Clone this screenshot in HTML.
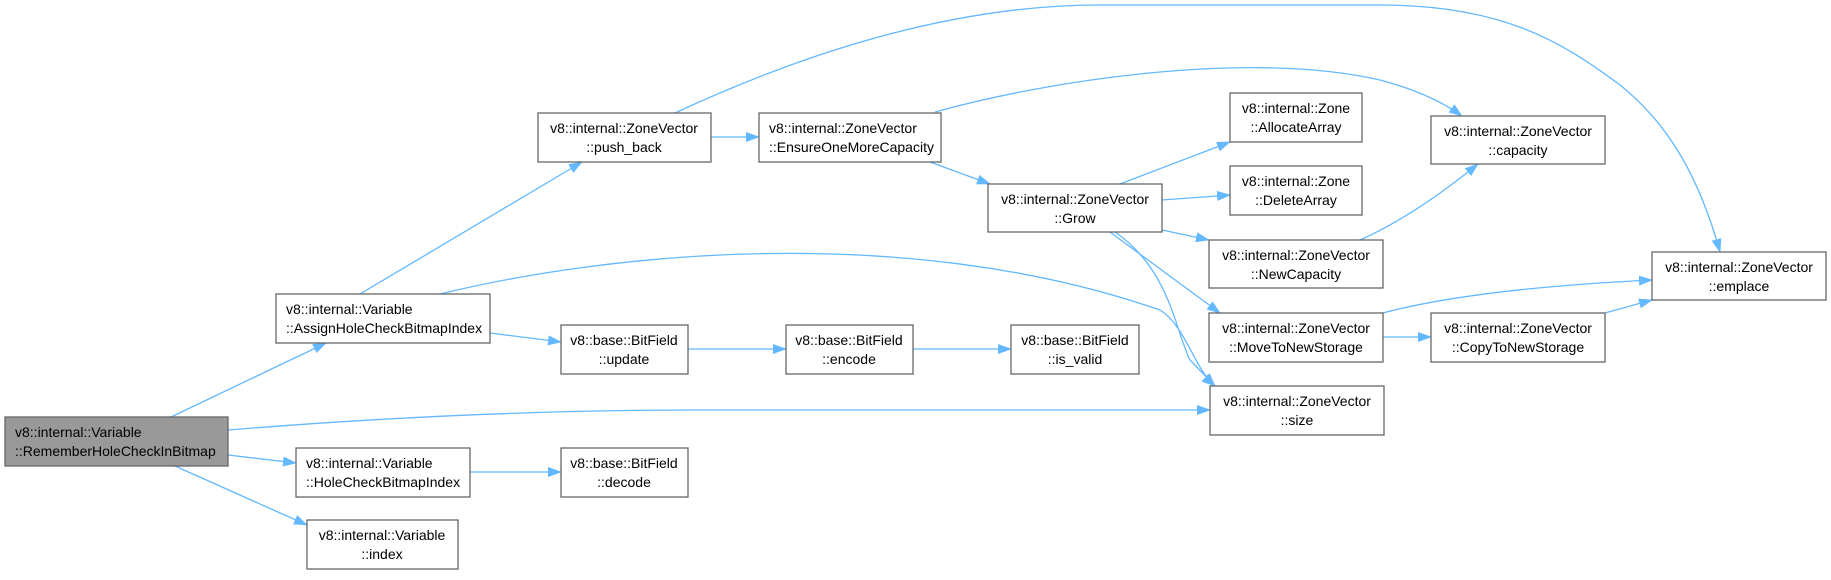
<!DOCTYPE html>
<html><head><meta charset="utf-8"><style>
body{margin:0;background:#fff;}
svg text{font-family:"Liberation Sans",sans-serif;font-size:14px;fill:#000;}
.b{fill:#fff;stroke:#666;stroke-width:1.3;}
.e{fill:none;stroke:#63b8ff;stroke-width:1.3;}
</style></head><body>
<svg width="1831" height="575" viewBox="0 0 1831 575" xmlns="http://www.w3.org/2000/svg">
<defs><marker id="a" markerWidth="14" markerHeight="10" refX="13" refY="5" orient="auto" markerUnits="userSpaceOnUse"><path d="M0,0 L14,5 L0,10 Z" fill="#63b8ff"/></marker></defs>
<g class="e" marker-end="url(#a)">
<path d="M171,417 L326,343"/>
<path d="M228,430 C400,416 550,410 700,410 L1210,410"/>
<path d="M228,455 L296,463"/>
<path d="M175,466 L307,525"/>
<path d="M360,294 L582,162"/>
<path d="M440,294 C600,255 900,220 1160,310 C1185,325 1195,370 1215,386"/>
<path d="M490,333 L561,342"/>
<path d="M711,137 L759,137"/>
<path d="M675,113 C800,55 950,5 1100,5 L1380,5 C1500,5 1560,40 1620,85 C1670,125 1700,180 1720,252"/>
<path d="M935,112 C1050,80 1250,50 1380,80 C1410,88 1440,100 1462,116"/>
<path d="M930,162 L990,184"/>
<path d="M1120,184 L1230,142"/>
<path d="M1162,200 L1230,195"/>
<path d="M1162,230 L1209,240"/>
<path d="M1110,232 L1220,313"/>
<path d="M1115,232 C1170,270 1175,330 1190,360 L1215,386"/>
<path d="M1360,240 C1400,222 1440,195 1478,164"/>
<path d="M1383,313 C1450,295 1550,285 1652,280"/>
<path d="M1383,337 L1431,337"/>
<path d="M1605,313 L1652,300"/>
<path d="M688,349 L786,349"/>
<path d="M913,349 L1011,349"/>
<path d="M470,472 L561,472"/>
</g>
<rect x="5" y="417" width="223" height="49" fill="#999" stroke="#666" stroke-width="1.3"/>
<text x="15" y="437">v8::internal::Variable</text><text x="15" y="456">::RememberHoleCheckInBitmap</text>
<rect class="b" x="276" y="294" width="214" height="49"/>
<text x="286" y="314">v8::internal::Variable</text><text x="286" y="333">::AssignHoleCheckBitmapIndex</text>
<rect class="b" x="296" y="448" width="174" height="49"/>
<text x="306" y="468">v8::internal::Variable</text><text x="306" y="487">::HoleCheckBitmapIndex</text>
<g text-anchor="middle">
<rect class="b" x="307" y="520" width="151" height="49"/>
<text x="382" y="540">v8::internal::Variable</text><text x="382" y="559">::index</text>
<rect class="b" x="538" y="113" width="173" height="49"/>
<text x="624" y="133">v8::internal::ZoneVector</text><text x="624" y="152">::push_back</text>
<rect class="b" x="561" y="325" width="127" height="49"/>
<text x="624" y="345">v8::base::BitField</text><text x="624" y="364">::update</text>
<rect class="b" x="561" y="448" width="127" height="49"/>
<text x="624" y="468">v8::base::BitField</text><text x="624" y="487">::decode</text>
<rect class="b" x="786" y="325" width="127" height="49"/>
<text x="849" y="345">v8::base::BitField</text><text x="849" y="364">::encode</text>
<rect class="b" x="1011" y="325" width="128" height="49"/>
<text x="1075" y="345">v8::base::BitField</text><text x="1075" y="364">::is_valid</text>
<rect class="b" x="988" y="184" width="174" height="48"/>
<text x="1075" y="204">v8::internal::ZoneVector</text><text x="1075" y="223">::Grow</text>
<rect class="b" x="1230" y="93" width="132" height="49"/>
<text x="1296" y="113">v8::internal::Zone</text><text x="1296" y="132">::AllocateArray</text>
<rect class="b" x="1230" y="166" width="132" height="49"/>
<text x="1296" y="186">v8::internal::Zone</text><text x="1296" y="205">::DeleteArray</text>
<rect class="b" x="1209" y="240" width="174" height="48"/>
<text x="1296" y="260">v8::internal::ZoneVector</text><text x="1296" y="279">::NewCapacity</text>
<rect class="b" x="1209" y="313" width="174" height="49"/>
<text x="1296" y="333">v8::internal::ZoneVector</text><text x="1296" y="352">::MoveToNewStorage</text>
<rect class="b" x="1210" y="386" width="174" height="49"/>
<text x="1297" y="406">v8::internal::ZoneVector</text><text x="1297" y="425">::size</text>
<rect class="b" x="1431" y="116" width="174" height="48"/>
<text x="1518" y="136">v8::internal::ZoneVector</text><text x="1518" y="155">::capacity</text>
<rect class="b" x="1431" y="313" width="174" height="49"/>
<text x="1518" y="333">v8::internal::ZoneVector</text><text x="1518" y="352">::CopyToNewStorage</text>
<rect class="b" x="1652" y="252" width="174" height="48"/>
<text x="1739" y="272">v8::internal::ZoneVector</text><text x="1739" y="291">::emplace</text>
</g>
<rect class="b" x="759" y="113" width="182" height="49"/>
<text x="769" y="133">v8::internal::ZoneVector</text><text x="769" y="152">::EnsureOneMoreCapacity</text>
</svg>
</body></html>
